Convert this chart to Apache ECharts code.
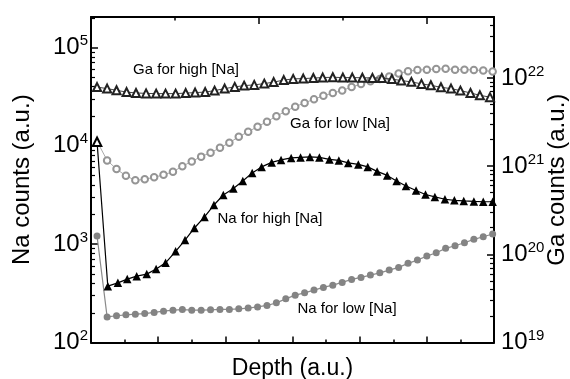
<!DOCTYPE html>
<html>
<head>
<meta charset="utf-8">
<script src="https://cdn.jsdelivr.net/npm/echarts@6/dist/echarts.min.js"></script>
<style>
html,body{margin:0;padding:0;background:#fff;}
#chart{width:570px;height:379px;}
</style>
</head>
<body>
<div id="chart"></div>
<script>
// ---- data ----
const lowDepth = [0.09, 0.24, 0.38, 0.52, 0.66, 0.80, 0.94, 1.08, 1.22, 1.36, 1.50, 1.64, 1.78, 1.92, 2.06, 2.20, 2.34, 2.48, 2.62, 2.76, 2.90, 3.04, 3.18, 3.32, 3.46, 3.60, 3.74, 3.88, 4.02, 4.16, 4.30, 4.44, 4.58, 4.72, 4.86, 5.00, 5.14, 5.28, 5.42, 5.56, 5.70, 5.84, 5.98];
const naLow = [1210, 182, 187, 191, 194, 197, 202, 208, 213, 216, 213, 213, 215, 217, 217, 220, 224, 230, 238, 253, 278, 303, 320, 341, 363, 383, 408, 438, 459, 485, 511, 545, 580, 638, 689, 756, 817, 906, 963, 1033, 1119, 1190, 1268];
const gaLow = [1.91e21, 1.16e21, 9.25e20, 7.76e20, 6.90e20, 7.08e20, 7.46e20, 7.96e20, 8.61e20, 9.95e20, 1.13e21, 1.28e21, 1.42e21, 1.61e21, 1.84e21, 2.15e21, 2.45e21, 2.80e21, 3.19e21, 3.68e21, 4.19e21, 4.72e21, 5.20e21, 5.74e21, 6.26e21, 6.72e21, 7.21e21, 7.86e21, 8.50e21, 9.13e21, 9.74e21, 1.035e22, 1.12e22, 1.19e22, 1.23e22, 1.24e22, 1.26e22, 1.27e22, 1.24e22, 1.24e22, 1.23e22, 1.21e22, 1.18e22];

const naHighDepth = [0.09, 0.25, 0.40, 0.54, 0.68, 0.83, 0.97, 1.11, 1.26, 1.40, 1.54, 1.69, 1.83, 1.97, 2.12, 2.26, 2.40, 2.54, 2.69, 2.83, 2.98, 3.12, 3.26, 3.40, 3.55, 3.69, 3.83, 3.98, 4.12, 4.26, 4.41, 4.55, 4.69, 4.84, 4.98, 5.12, 5.27, 5.41, 5.55, 5.70, 5.84, 5.98];
const naHigh = [11000, 374, 404, 441, 473, 496, 558, 646, 845, 1100, 1460, 1890, 2500, 3160, 3680, 4390, 5300, 6100, 6780, 7180, 7530, 7620, 7710, 7620, 7270, 7100, 6700, 6470, 6100, 5490, 5000, 4390, 3900, 3510, 3200, 3020, 2860, 2790, 2750, 2720, 2700, 2700];

const gaHighDepth = [0.09, 0.24, 0.38, 0.53, 0.67, 0.82, 0.97, 1.11, 1.26, 1.41, 1.55, 1.70, 1.84, 1.99, 2.14, 2.28, 2.43, 2.58, 2.72, 2.87, 3.01, 3.16, 3.31, 3.45, 3.60, 3.75, 3.89, 4.04, 4.19, 4.33, 4.48, 4.62, 4.77, 4.92, 5.06, 5.21, 5.36, 5.50, 5.65, 5.79, 5.94];
const gaHigh = [7.86e21, 7.56e21, 7.23e21, 6.90e21, 6.75e21, 6.67e21, 6.63e21, 6.63e21, 6.63e21, 6.72e21, 6.81e21, 6.90e21, 7.17e21, 7.56e21, 7.90e21, 8.17e21, 8.33e21, 8.61e21, 8.96e21, 9.44e21, 9.74e21, 9.82e21, 9.95e21, 1.008e22, 1.016e22, 1.008e22, 1.008e22, 1.003e22, 1.0e22, 9.95e21, 9.69e21, 9.32e21, 9.01e21, 8.55e21, 8.24e21, 7.82e21, 7.56e21, 7.17e21, 6.75e21, 6.34e21, 6.05e21];

const naExponents = [2, 3, 4, 5];
const gaExponents = [19, 20, 21, 22];
const naRange = [1e2, 2.04e5];
const gaRange = [1e19, 4.9e22];
const depthRange = [0, 6];
const seriesNames = ['Na for high [Na]', 'Na for low [Na]', 'Ga for high [Na]', 'Ga for low [Na]'];

// ---- helpers ----
const FONT = '"Liberation Sans", Arial, sans-serif';
function powLabel(exps) {
  return function (value) {
    const l = Math.log10(value);
    const e = Math.round(l);
    if (Math.abs(l - e) > 1e-6 || exps.indexOf(e) < 0) return '';
    return '{b|10}{s|' + e + '}';
  };
}
const labelRich = {
  b: { fontSize: 24, lineHeight: 28, fontFamily: FONT, color: '#000' },
  s: { fontSize: 15, lineHeight: 14, fontFamily: FONT, color: '#000', verticalAlign: 'top' }
};
const lineStyleAxis = { color: '#000', width: 2 };

const chart = echarts.init(document.getElementById('chart'), null, { renderer: 'canvas' });

function logAxis(pos, range, exps, name, gap, margin) {
  return {
    type: 'log', logBase: 10, position: pos, min: range[0], max: range[1],
    name: name, nameLocation: 'middle', nameGap: gap, nameRotate: 90, nameMoveOverlap: false,
    nameTextStyle: { fontSize: 24, fontFamily: FONT, color: '#000' },
    axisLine: { show: true, onZero: false, lineStyle: lineStyleAxis },
    axisTick: { show: true, inside: true, length: 7, lineStyle: { color: '#000', width: 1.5 } },
    minorTick: { show: true, splitNumber: 9, length: 4, lineStyle: { color: '#000', width: 1.2 } },
    axisLabel: { show: true, margin: margin, formatter: powLabel(exps), rich: labelRich },
    splitLine: { show: false }
  };
}

const option = {
  animation: false,
  backgroundColor: '#fff',
  grid: { left: 91, right: 76, top: 17, bottom: 36.5, containLabel: false, outerBoundsMode: 'none' },
  xAxis: [
    {
      type: 'value', position: 'bottom', min: depthRange[0], max: depthRange[1], interval: 1,
      name: 'Depth (a.u.)', nameLocation: 'middle', nameGap: 15,
      nameTextStyle: { fontSize: 23, fontFamily: FONT, color: '#000' },
      axisLine: { show: true, lineStyle: lineStyleAxis },
      axisTick: { show: true, inside: true, length: 6, lineStyle: { color: '#000', width: 1.5 } },
      minorTick: { show: true, splitNumber: 2, length: 3, lineStyle: { color: '#000', width: 1.5 } },
      axisLabel: { show: false }, splitLine: { show: false }
    },
    {
      type: 'value', position: 'top', min: 0, max: 4.8, interval: 1,
      axisLine: { show: true, onZero: false, lineStyle: lineStyleAxis },
      axisTick: { show: true, inside: true, length: 3.5, lineStyle: { color: '#000', width: 1.5 } },
      axisLabel: { show: false }, splitLine: { show: false }
    },
    {
      type: 'value', position: 'top', min: 0, max: 4.8, interval: 2,
      axisLine: { show: false },
      axisTick: { show: true, inside: true, length: 7, lineStyle: { color: '#000', width: 1.5 } },
      axisLabel: { show: false }, splitLine: { show: false }
    }
  ],
  yAxis: [
    logAxis('left', naRange, naExponents, 'Na counts (a.u.)', 57, 3),
    logAxis('right', gaRange, gaExponents, 'Ga counts (a.u.)', 51, 7)
  ],
  series: [
    {
      name: seriesNames[0], type: 'line', xAxisIndex: 0, yAxisIndex: 0,
      data: naHighDepth.map(function (d, i) {
        const p = { value: [d, naHigh[i]] };
        if (i === 0) p.symbol = 'emptyTriangle';
        return p;
      }),
      symbol: 'triangle', symbolSize: 8.5, z: 4,
      itemStyle: { color: '#000', borderWidth: 1 },
      lineStyle: { color: '#000', width: 1.2 }
    },
    {
      name: seriesNames[1], type: 'line', xAxisIndex: 0, yAxisIndex: 0,
      data: lowDepth.map(function (d, i) { return [d, naLow[i]]; }),
      symbol: 'circle', symbolSize: 7, z: 3,
      itemStyle: { color: '#848484' },
      lineStyle: { color: '#8a8a8a', width: 1.2 }
    },
    {
      name: seriesNames[2], type: 'line', xAxisIndex: 0, yAxisIndex: 1,
      data: gaHighDepth.map(function (d, i) { return [d, gaHigh[i]]; }),
      symbol: 'emptyTriangle', symbolSize: 8, z: 3,
      itemStyle: { color: '#222', borderWidth: 0.8 },
      lineStyle: { color: '#444', width: 1 }
    },
    {
      name: seriesNames[3], type: 'line', xAxisIndex: 0, yAxisIndex: 1,
      data: lowDepth.map(function (d, i) {
        const p = { value: [d, gaLow[i]] };
        if (i === 0) p.symbol = 'none';
        return p;
      }),
      symbol: 'emptyCircle', symbolSize: 6.5, z: 2,
      itemStyle: { color: '#959595', borderWidth: 0.9 },
      lineStyle: { color: '#a0a0a0', width: 0.9 }
    }
  ],
  graphic: [
    { type: 'text', x: 186, y: 70, z: 10, style: { text: seriesNames[2], font: '15px ' + FONT, fill: '#000', align: 'center', verticalAlign: 'middle' } },
    { type: 'text', x: 340, y: 124, z: 10, style: { text: seriesNames[3], font: '15px ' + FONT, fill: '#000', align: 'center', verticalAlign: 'middle' } },
    { type: 'text', x: 270, y: 219, z: 10, style: { text: seriesNames[0], font: '15px ' + FONT, fill: '#000', align: 'center', verticalAlign: 'middle' } },
    { type: 'text', x: 347, y: 309, z: 10, style: { text: seriesNames[1], font: '15px ' + FONT, fill: '#000', align: 'center', verticalAlign: 'middle' } }
  ]
};
chart.setOption(option);
</script>
</body>
</html>
